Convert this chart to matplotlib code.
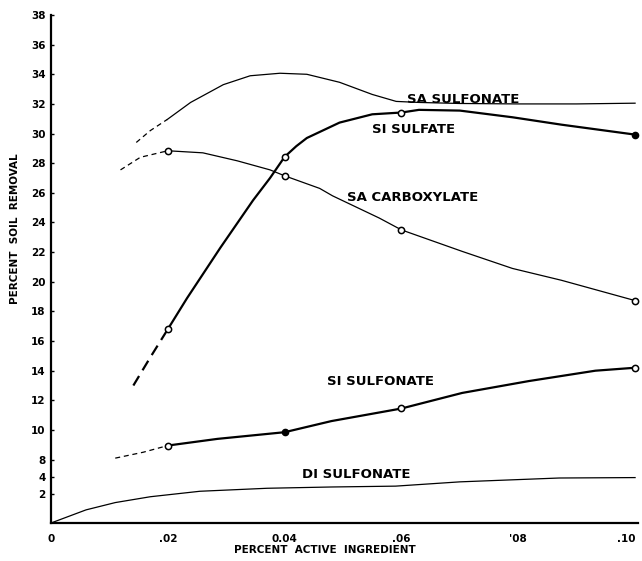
import numpy as np
import matplotlib
matplotlib.use("Agg")
import matplotlib.pyplot as plt

# y axis of the original drawing is squeezed below 8
Y_NODES = [0, 2, 4, 8, 38]
Y_POS = [0, 29, 46, 63, 505]

# SA SULFONATE
sa_sulfonate_dash_x = [0.0146, 0.0170, 0.0199]
sa_sulfonate_dash_y = [29.4, 30.2, 30.95]
sa_sulfonate_x = [0.0199, 0.0239, 0.0295, 0.0341, 0.0392, 0.0438, 0.0494, 0.0550, 0.0591,
                  0.0630, 0.0700, 0.0800, 0.0900, 0.1000]
sa_sulfonate_y = [30.95, 32.1, 33.3, 33.9, 34.07, 34.0, 33.46, 32.64, 32.17,
                  32.1, 32.03, 32.0, 32.0, 32.05]

# SI SULFATE
si_sulfate_dash_x = [0.0141, 0.0170, 0.0200]
si_sulfate_dash_y = [13.0, 14.9, 16.8]
si_sulfate_x = [0.0200, 0.0233, 0.0290, 0.0346, 0.0375, 0.0400, 0.0420, 0.0438, 0.0494,
                0.0550, 0.0600, 0.0630, 0.0700, 0.0790, 0.0874, 0.1000]
si_sulfate_y = [16.8, 18.9, 22.3, 25.5, 27.0, 28.43, 29.15, 29.7, 30.74,
                31.3, 31.42, 31.6, 31.55, 31.1, 30.6, 29.93]
si_sulfate_pts_x = [0.02, 0.04, 0.06]
si_sulfate_pts_y = [16.8, 28.43, 31.42]

# SA CARBOXYLATE
sa_carbox_dash_x = [0.0119, 0.0153, 0.0200]
sa_carbox_dash_y = [27.55, 28.4, 28.84]
sa_carbox_x = [0.0200, 0.0260, 0.0319, 0.0375, 0.0400, 0.0460, 0.0482, 0.0562, 0.0600,
               0.0704, 0.0790, 0.0874, 0.1000]
sa_carbox_y = [28.84, 28.7, 28.16, 27.55, 27.15, 26.3, 25.8, 24.3, 23.5,
               22.05, 20.9, 20.1, 18.73]
sa_carbox_pts_x = [0.02, 0.04, 0.06, 0.10]
sa_carbox_pts_y = [28.84, 27.15, 23.5, 18.73]

# SI SULFONATE
si_sulfonate_dash_x = [0.0110, 0.0158, 0.0200]
si_sulfonate_dash_y = [8.1, 8.5, 8.95]
si_sulfonate_x = [0.0200, 0.0285, 0.0400, 0.0480, 0.0600, 0.0704, 0.0818, 0.0932, 0.1000]
si_sulfonate_y = [8.95, 9.4, 9.85, 10.6, 11.45, 12.5, 13.3, 14.0, 14.2]
si_sulfonate_pts_x = [0.02, 0.06, 0.10]
si_sulfonate_pts_y = [8.95, 11.45, 14.2]

# DI SULFONATE
di_sulfonate_x = [0.0, 0.0060, 0.0110, 0.0170, 0.0255, 0.0370, 0.0480, 0.0590, 0.0700,
                  0.0870, 0.1000]
di_sulfonate_y = [0.0, 0.9, 1.4, 1.8, 2.3, 2.65, 2.8, 2.9, 3.4, 3.85, 3.9]

# filled dots
filled_x = [0.04, 0.10]
filled_y = [9.85, 29.93]

y_ticks = [2, 4, 8, 10, 12, 14, 16, 18, 20, 22, 24, 26, 28, 30, 32, 34, 36, 38]
y_labels = ["2", "4", "8", "10", "12", "14", "16", "18", "20", "22", "24", "26",
            "28", "30", "32", "34", "36", "38"]
x_ticks = [0, 0.02, 0.04, 0.06, 0.08, 0.10]
x_labels = ["0", ".02", "0.04", ".06", "'08", ".10"]

labels = [
    ("SA SULFONATE", 0.0610, 32.3),
    ("SI SULFATE", 0.0550, 30.3),
    ("SA CARBOXYLATE", 0.0507, 25.7),
    ("SI SULFONATE", 0.0472, 13.25),
    ("DI SULFONATE", 0.0430, 4.6),
]


def fwd(v):
    return np.interp(v, Y_NODES, Y_POS)


def inv(p):
    return np.interp(p, Y_POS, Y_NODES)


fig = plt.figure(figsize=(6.42, 5.61), dpi=100)
ax = fig.add_axes([51 / 642, 38 / 561, 587 / 642, 508 / 561])
ax.set_yscale("function", functions=(fwd, inv))

thin = dict(color="black", lw=0.9)
thick = dict(color="black", lw=1.6)

ax.plot(sa_sulfonate_dash_x, sa_sulfonate_dash_y, ls=(0, (4, 3)), **thin)
ax.plot(sa_sulfonate_x, sa_sulfonate_y, **thin)

ax.plot(si_sulfate_dash_x, si_sulfate_dash_y, ls=(0, (5, 3)), **thick)
ax.plot(si_sulfate_x, si_sulfate_y, **thick)

ax.plot(sa_carbox_dash_x, sa_carbox_dash_y, ls=(0, (4, 3)), **thin)
ax.plot(sa_carbox_x, sa_carbox_y, **thin)

ax.plot(si_sulfonate_dash_x, si_sulfonate_dash_y, ls=(0, (4, 3)), **thin)
ax.plot(si_sulfonate_x, si_sulfonate_y, **thick)

ax.plot(di_sulfonate_x, di_sulfonate_y, **thin)

for px, py in [(si_sulfate_pts_x, si_sulfate_pts_y),
               (sa_carbox_pts_x, sa_carbox_pts_y),
               (si_sulfonate_pts_x, si_sulfonate_pts_y)]:
    ax.plot(px, py, ls="none", marker="o", ms=4.5, mfc="white", mec="black", mew=1.1,
            clip_on=False, zorder=4)
ax.plot(filled_x, filled_y, ls="none", marker="o", ms=4.5, color="black",
        clip_on=False, zorder=4)

for text, tx, ty in labels:
    ax.text(tx, ty, text, fontsize=9.5, fontweight="bold", ha="left", va="center")

ax.set_xlim(0, 0.1005)
ax.set_ylim(0, 38.2)
ax.set_yticks(y_ticks)
ax.set_yticklabels(y_labels)
ax.set_xticks(x_ticks)
ax.set_xticklabels(x_labels)
ax.minorticks_off()
ax.tick_params(axis="y", length=2, width=1, direction="in", pad=4, labelsize=7.5)
ax.tick_params(axis="x", length=0, pad=8, labelsize=7.5)
for lab in ax.get_xticklabels() + ax.get_yticklabels():
    lab.set_fontweight("bold")
# last x label sits at the very edge of the figure
ax.get_xticklabels()[-1].set_horizontalalignment("right")

for side in ["top", "right"]:
    ax.spines[side].set_visible(False)
for side in ["left", "bottom"]:
    ax.spines[side].set_linewidth(1.6)

fig.text(325 / 642, 1 - 550 / 561, "PERCENT  ACTIVE  INGREDIENT", fontsize=7.5,
         fontweight="bold", ha="center", va="center")
fig.text(15 / 642, 1 - 229 / 561, "PERCENT  SOIL  REMOVAL", fontsize=7.5,
         fontweight="bold", ha="center", va="center", rotation=90)

fig.savefig("out.png", dpi=100)
